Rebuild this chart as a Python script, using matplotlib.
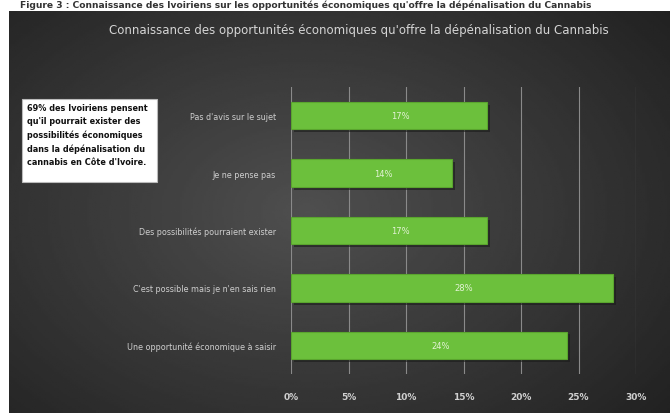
import matplotlib.pyplot as plt
from matplotlib.patches import Rectangle
import numpy as np

categories = ["Une opportunité économique à saisir",
              "C'est possible mais je n'en sais rien",
              "Des possibilités pourraient exister",
              "Je ne pense pas",
              "Pas d'avis sur le sujet"]
values = [24, 28, 17, 14, 17]
xticks = [0, 5, 10, 15, 20, 25, 30]

title = "Connaissance des opportunités économiques qu'offre la dépénalisation du Cannabis"
caption = "Figure 3 : Connaissance des Ivoiriens sur les opportunités économiques qu'offre la dépénalisation du Cannabis"
note = ("69% des Ivoiriens pensent\nqu'il pourrait exister des\npossibilités économiques\n"
        "dans la dépénalisation du\ncannabis en Côte d'Ivoire.")

fig = plt.figure(figsize=(6.7, 4.14), dpi=100)
fig.patch.set_facecolor('white')

# dark gradient background
bg = fig.add_axes([9 / 670, 0, 1 - 9 / 670, 1 - 12 / 414])
gx = np.linspace(-1, 1, 300)
gy = np.linspace(-1, 1, 200)
X, Y = np.meshgrid(gx + 0.1, gy)
r = np.sqrt((X * 0.9) ** 2 + (Y * 0.8) ** 2)
shade = 0.31 - 0.14 * np.clip(r, 0, 1.4)
bg.imshow(shade, cmap='gray', vmin=0, vmax=1, aspect='auto', extent=[0, 1, 0, 1])
bg.axis('off')

fig.text(0.03, 1.0, caption, fontsize=6.6, fontweight='bold', color='#333333',
         va='top', ha='left')
fig.text(0.535, 0.926, title, fontsize=8.5, color='#d5d5d5', ha='center', va='center')

ax = fig.add_axes([291 / 670, 1 - 375 / 414, (636 - 291) / 670, (375 - 88) / 414])
ax.set_facecolor('none')
y = np.arange(len(categories))
# shadow
ax.barh(y - 0.05, values, height=0.48, left=0.3, color='#1a1a1a', alpha=0.6, zorder=2)
ax.barh(y, values, height=0.48, color='#6cc03c', edgecolor='#5aa52e',
        linewidth=0.8, zorder=3)
for yi, v in zip(y, values):
    ax.text(v / 2 + 1, yi, f"{v}%", color='#e3f3d6', fontsize=6, ha='center',
            va='center', zorder=4)

ax.set_xlim(0, 30)
ax.set_ylim(-0.5, len(categories) - 0.5)
ax.set_xticks(xticks)
ax.set_xticklabels([f"{t}%" for t in xticks], color='#d0d0d0', fontsize=6.5,
                   fontweight='bold')
ax.set_yticks(y)
ax.set_yticklabels(categories, color='#cfcfcf', fontsize=5.8)
ax.tick_params(axis='x', length=0, pad=13)
ax.tick_params(axis='y', length=0, pad=11)
ax.grid(axis='x', color='#8a8a8a', linewidth=0.8, zorder=1)
for s in ax.spines.values():
    s.set_visible(False)

# annotation box
fig.add_artist(Rectangle((22 / 670, 1 - 183 / 414), 135 / 670, 83 / 414,
                         transform=fig.transFigure, facecolor='white',
                         edgecolor='#bbbbbb', linewidth=0.8))
fig.text(27 / 670, 1 - 104 / 414, note, fontsize=5.9, fontweight='bold', color='#111111',
         ha='left', va='top', linespacing=1.6)

fig.savefig('out.png', dpi=100)
